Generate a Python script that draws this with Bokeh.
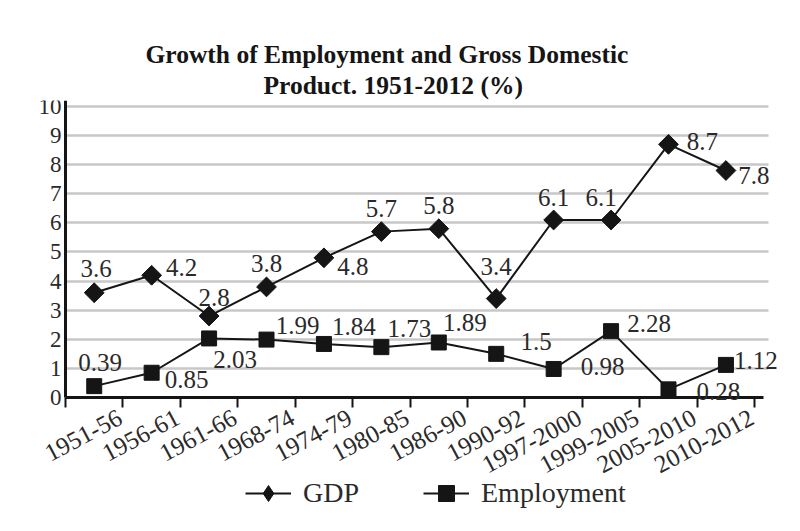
import numpy as np
from bokeh.plotting import figure
from bokeh.models import (Range1d, LinearAxis, FixedTicker, ColumnDataSource, LabelSet,
                          Legend, LegendItem, Title, Grid, CustomJSTickFormatter)
from bokeh.embed import file_html
from bokeh.resources import INLINE

# ---------------- data ----------------
periods = ["1951-56", "1956-61", "1961-66", "1968-74", "1974-79", "1980-85",
           "1986-90", "1990-92", "1997-2000", "1999-2005", "2005-2010", "2010-2012"]
gdp = [3.6, 4.2, 2.8, 3.8, 4.8, 5.7, 5.8, 3.4, 6.1, 6.1, 8.7, 7.8]
employment = [0.39, 0.85, 2.03, 1.99, 1.84, 1.73, 1.89, 1.5, 0.98, 2.28, 0.28, 1.12]
y_ticks = list(range(0, 11))

# label placement offsets (screen px) -- styling, not data
gdp_dx = [2, 30, 5, 0, 29, 0, 0, 0, 0, -10, 34, 28]
gdp_dy = [24, 8, 19, 23, -9, 23, 23, 32, 22, 22, 3, -5]
emp_dx = [6, 35, 26, 31, 30, 28, 26, 40, 49, 38, 50, 30]
emp_dy = [24, -7, -21, 14, 17, 19, 20, 12, 2, 8, -2, 4]

FONT = "Liberation Serif"
INK = "#151515"
TXT = "#2a2a2a"

n = len(periods)
xpos = np.arange(n) + 0.5

src = ColumnDataSource(dict(
    x=xpos, gdp=gdp, emp=employment,
    gl=[str(v) for v in gdp], el=[str(v) for v in employment],
    gdx=gdp_dx, gdy=gdp_dy, edx=emp_dx, edy=emp_dy,
))
cat_src = ColumnDataSource(dict(x=xpos + 0.45, y=[0] * n, label=periods))

p = figure(width=784, height=515, output_backend="svg", toolbar_location=None,
           x_range=Range1d(-0.54, 12.52), y_range=Range1d(-4.055, 10.206),
           x_axis_location=None, y_axis_location=None,
           min_border_left=34, min_border_right=0, min_border_top=100,
           min_border_bottom=0)
p.outline_line_color = None
p.background_fill_color = "white"
p.border_fill_color = "white"
for g in list(p.grid):
    g.visible = False
    g.grid_line_color = None

# x axis line + boundary ticks (drawn at y = 0, ticks pointing down)
xa = LinearAxis(ticker=FixedTicker(ticks=list(range(n + 1))), bounds=(0, 12.15),
                fixed_location=0,
                axis_line_width=3, axis_line_color=INK,
                major_tick_out=0, major_tick_in=10, major_tick_line_width=2,
                major_tick_line_color=INK, minor_tick_out=0, minor_tick_in=0,
                major_label_standoff=0, major_label_text_font_size="1px",
                formatter=CustomJSTickFormatter(code="return ''"))
p.add_layout(xa, "above")

# titles (later added = farther from plot)
p.add_layout(Title(text="Product. 1951-2012 (%)", align="left", offset=229,
                   text_font=FONT, text_font_size="25.5px", text_font_style="bold",
                   text_color=INK, standoff=1), "above")
p.add_layout(Title(text="Growth of Employment and Gross Domestic", align="left", offset=111,
                   text_font=FONT, text_font_size="25.5px", text_font_style="bold",
                   text_color=INK, standoff=0), "above")

# horizontal grid lines
p.add_layout(Grid(dimension=1, ticker=FixedTicker(ticks=y_ticks[1:]),
                  cross_bounds=(0, 12.25),
                  grid_line_color="#c8c8c8", grid_line_width=2.5))

# y axis at x = 0
ya = LinearAxis(ticker=FixedTicker(ticks=y_ticks), bounds=(0, 10.206), fixed_location=0,
                axis_line_width=3, axis_line_color=INK,
                major_tick_out=0, major_tick_in=0, minor_tick_out=0, minor_tick_in=0,
                major_label_standoff=4, major_label_text_font=FONT,
                major_label_text_font_size="23px", major_label_text_color=TXT)
p.add_layout(ya, "left")

# rotated category labels
p.add_layout(LabelSet(x="x", y="y", text="label", source=cat_src, y_offset=-18,
                      angle=np.radians(28), text_align="right", text_baseline="middle",
                      text_font=FONT, text_font_size="25px", text_color=TXT))

# series
l1 = p.line("x", "gdp", source=src, line_color=INK, line_width=2)
d1 = p.scatter("x", "gdp", source=src, marker="diamond", size=18,
               fill_color=INK, line_color=INK)
s1 = p.scatter("x", "gdp", source=src, marker="square", size=14, angle=np.pi / 4,
               fill_color=INK, line_color=INK)
l2 = p.line("x", "emp", source=src, line_color=INK, line_width=2)
s2 = p.scatter("x", "emp", source=src, marker="square", size=15,
               fill_color=INK, line_color=INK)

p.add_layout(LabelSet(x="x", y="gdp", text="gl", x_offset="gdx", y_offset="gdy", source=src,
                      text_align="center", text_baseline="middle", text_font=FONT,
                      text_font_size="25px", text_color=TXT))
p.add_layout(LabelSet(x="x", y="emp", text="el", x_offset="edx", y_offset="edy", source=src,
                      text_align="center", text_baseline="middle", text_font=FONT,
                      text_font_size="25px", text_color=TXT))

legend = Legend(items=[LegendItem(label="GDP", renderers=[l1, d1]),
                       LegendItem(label="Employment", renderers=[l2, s2])],
                orientation="horizontal", location=(211, 2), glyph_width=46,
                glyph_height=40, label_standoff=12, spacing=64, padding=0, margin=0,
                border_line_color=None, background_fill_alpha=0,
                label_text_font=FONT, label_text_font_size="28px",
                label_text_color=TXT)
p.add_layout(legend, "center")

open("out.html", "w").write(file_html(p, INLINE))
